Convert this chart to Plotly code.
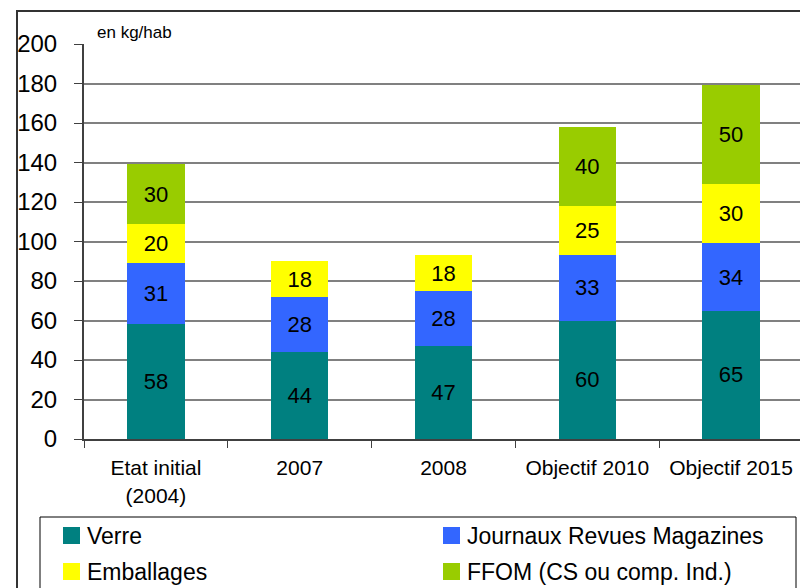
import plotly.graph_objects as go

categories = ["Etat initial<br>(2004)", "2007", "2008", "Objectif 2010", "Objectif 2015"]
verre = [58, 44, 47, 60, 65]
journaux = [31, 28, 28, 33, 34]
emballages = [20, 18, 18, 25, 30]
ffom = [30, None, None, 40, 50]

series_names = ["Verre", "Journaux Revues Magazines", "Emballages", "FFOM (CS ou comp. Ind.)"]
series_values = [verre, journaux, emballages, ffom]
series_colors = ["#008080", "#3366FF", "#FFFF00", "#99CC00"]

W, H = 800, 588
L, R, T, B = 84, 0, 44, 149
PW, PH = W - L - R, H - T - B


def px(x):
    return (x - L) / PW


def py(y):
    return (H - B - y) / PH


FONT = "Liberation Sans, Arial, sans-serif"

fig = go.Figure()
for name, vals, col in zip(series_names, series_values, series_colors):
    fig.add_trace(go.Bar(
        x=categories, y=vals, name=name, marker=dict(color=col, line=dict(width=0)),
        width=0.4,
        text=[("" if v is None else str(v)) for v in vals],
        textposition="inside", insidetextanchor="middle", textangle=0,
        constraintext="none",
        textfont=dict(family=FONT, size=22, color="black"),
        showlegend=False, hoverinfo="skip",
    ))

cat_px = 143.8
fig.update_layout(
    width=W, height=H, barmode="stack", bargap=0.6,
    paper_bgcolor="white", plot_bgcolor="white",
    margin=dict(l=L, r=R, t=T, b=B, pad=0),
    font=dict(family=FONT, color="black"),
    xaxis=dict(
        type="category", range=[-0.5, -0.5 + PW / cat_px],
        showline=True, linecolor="#404040", linewidth=2,
        ticks="outside", tickson="boundaries", ticklen=7, tickcolor="#404040", tickwidth=1,
        tickfont=dict(family=FONT, size=21, color="black"),
        ticklabelstandoff=9, showgrid=False,
    ),
    yaxis=dict(
        range=[0, 200], tick0=0, dtick=20,
        showline=True, linecolor="#404040", linewidth=2,
        ticks="outside", ticklen=8, tickcolor="#404040", tickwidth=1,
        tickfont=dict(family=FONT, size=24, color="black"),
        ticklabelstandoff=12,
        showgrid=True, gridcolor="#808080", gridwidth=1.5,
        zeroline=False,
    ),
)

shapes = []
annotations = []
# outer chart border
shapes.append(dict(type="rect", xref="paper", yref="paper",
                   x0=px(17), y0=py(11), x1=px(812), y1=py(600),
                   line=dict(color="#333333", width=2), fillcolor="rgba(0,0,0,0)", layer="below"))
# legend box
shapes.append(dict(type="rect", xref="paper", yref="paper",
                   x0=px(40), y0=py(517), x1=px(796), y1=py(600),
                   line=dict(color="black", width=1), fillcolor="rgba(0,0,0,0)"))
legend_pos = [(63, 535.5), (443, 535.5), (63, 571.5), (443, 571.5)]
for (lx, ly), name, col in zip(legend_pos, series_names, series_colors):
    shapes.append(dict(type="rect", xref="paper", yref="paper",
                       x0=px(lx), y0=py(ly - 8.5), x1=px(lx + 17), y1=py(ly + 8.5),
                       line=dict(width=0), fillcolor=col))
    annotations.append(dict(xref="paper", yref="paper", x=px(lx + 22), y=py(ly),
                            xanchor="left", yanchor="middle", showarrow=False,
                            text=name, font=dict(family=FONT, size=23, color="black")))
annotations.append(dict(xref="paper", yref="paper", x=px(95), y=py(32),
                        xanchor="left", yanchor="middle", showarrow=False,
                        text="en kg/hab", font=dict(family=FONT, size=17, color="black")))
fig.update_layout(shapes=shapes, annotations=annotations)

fig.write_html("out.html", config={"displayModeBar": False},
               post_script="document.body.style.margin='0';")
